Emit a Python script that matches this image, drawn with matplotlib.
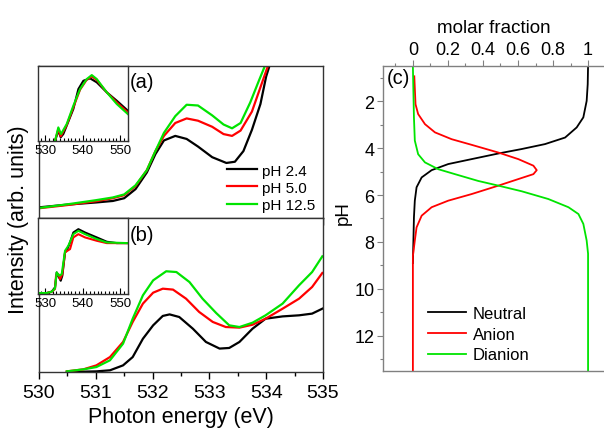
import matplotlib
matplotlib.use("Agg")
import matplotlib.pyplot as plt
from matplotlib.ticker import MultipleLocator, FixedLocator

plt.rcParams['font.family'] = ['Liberation Sans', 'DejaVu Sans']

# ---------------- data ----------------
# panel (a), main
a_black_x = [530.0, 530.5, 531.0, 531.3, 531.5, 531.7, 531.9, 532.05, 532.2, 532.4, 532.6, 532.8,
             533.05, 533.3, 533.45, 533.6, 533.75, 533.9, 534.0, 534.1]
a_black_y = [0.07, 0.088, 0.102, 0.112, 0.13, 0.19, 0.30, 0.42, 0.51, 0.54, 0.52, 0.47,
             0.40, 0.362, 0.37, 0.44, 0.58, 0.75, 0.93, 1.05]
a_red_x = [530.0, 530.5, 531.0, 531.3, 531.5, 531.7, 531.9, 532.05, 532.2, 532.4, 532.6, 532.8,
           533.05, 533.25, 533.4, 533.55, 533.75, 533.9, 534.05]
a_red_y = [0.064, 0.085, 0.11, 0.13, 0.15, 0.21, 0.315, 0.44, 0.54, 0.625, 0.655, 0.64,
           0.60, 0.552, 0.54, 0.575, 0.70, 0.86, 1.02]
a_green_x = [530.0, 530.5, 531.0, 531.3, 531.5, 531.7, 531.9, 532.05, 532.2, 532.4, 532.6, 532.8,
             533.05, 533.25, 533.4, 533.55, 533.72, 533.88, 534.0]
a_green_y = [0.066, 0.09, 0.117, 0.135, 0.155, 0.215, 0.315, 0.44, 0.56, 0.67, 0.745, 0.74,
             0.675, 0.615, 0.59, 0.625, 0.76, 0.91, 1.02]

# panel (b), main
b_black_x = [530.49, 531.01, 531.25, 531.48, 531.65, 531.83, 532.01, 532.18, 532.30, 532.47, 532.71,
             532.94, 533.18, 533.35, 533.53, 533.76, 533.99, 534.29, 534.58, 534.81, 534.99]
b_black_y = [0.0, 0.004, 0.011, 0.043, 0.097, 0.216, 0.303, 0.364, 0.374, 0.357, 0.281,
             0.195, 0.152, 0.156, 0.195, 0.281, 0.346, 0.361, 0.368, 0.379, 0.411]
b_red_x = [530.49, 530.78, 531.01, 531.25, 531.48, 531.65, 531.83, 532.01, 532.18, 532.36, 532.59,
           532.82, 533.06, 533.29, 533.53, 533.76, 533.99, 534.29, 534.58, 534.81, 534.99]
b_red_y = [0.004, 0.017, 0.043, 0.097, 0.195, 0.325, 0.444, 0.515, 0.541, 0.535, 0.476,
           0.39, 0.325, 0.292, 0.288, 0.307, 0.346, 0.411, 0.476, 0.552, 0.643]
b_green_x = [530.49, 530.78, 531.01, 531.25, 531.48, 531.65, 531.83, 532.01, 532.24, 532.42, 532.65,
             532.88, 533.12, 533.35, 533.53, 533.76, 533.99, 534.29, 534.58, 534.81, 534.99]
b_green_y = [0.004, 0.017, 0.032, 0.076, 0.184, 0.346, 0.498, 0.595, 0.654, 0.649, 0.584,
             0.476, 0.383, 0.303, 0.292, 0.320, 0.368, 0.444, 0.563, 0.649, 0.751]

# inset (a)
ia_black_x = [532.3, 532.65, 533.53, 534.17, 534.87, 535.77, 537.53, 538.87, 540.2, 541.99, 543.77, 546.44, 549.1, 552.04]
ia_black_y = [-0.1, 0.0, 0.137, 0.049, 0.093, 0.204, 0.425, 0.69, 0.80, 0.832, 0.779, 0.646, 0.535, 0.403]
ia_red_x = [532.3, 532.65, 533.53, 534.17, 535.77, 537.53, 539.32, 541.1, 542.44, 543.77, 546.44, 549.1, 552.04]
ia_red_y = [-0.1, 0.0, 0.159, 0.062, 0.212, 0.447, 0.681, 0.814, 0.858, 0.81, 0.646, 0.513, 0.38]
ia_green_x = [532.3, 532.65, 533.53, 534.25, 535.77, 537.53, 539.32, 541.1, 542.44, 543.77, 546.44, 549.1, 552.04]
ia_green_y = [-0.1, 0.0, 0.181, 0.093, 0.226, 0.469, 0.69, 0.823, 0.876, 0.823, 0.646, 0.491, 0.358]

# inset (b)
ib_black_x = [528.2, 530.44, 531.77, 532.65, 533.1, 533.72, 534.17, 534.6, 535.32, 535.93, 536.65,
              537.53, 538.87, 540.65, 543.77, 546.44, 549.1, 552.04]
ib_black_y = [0.013, 0.013, 0.031, 0.088, 0.285, 0.219, 0.175, 0.241, 0.548, 0.592, 0.68,
              0.811, 0.855, 0.811, 0.746, 0.689, 0.671, 0.671]
ib_red_x = [528.2, 530.44, 531.77, 532.65, 532.92, 533.53, 533.99, 534.6, 535.32, 535.93, 536.65,
            537.53, 538.87, 540.65, 543.77, 546.44, 552.04]
ib_red_y = [0.013, 0.013, 0.031, 0.066, 0.241, 0.263, 0.197, 0.263, 0.548, 0.57, 0.592,
            0.746, 0.789, 0.746, 0.702, 0.671, 0.671]
ib_green_x = [528.2, 530.44, 531.77, 532.65, 533.1, 533.8, 534.44, 535.32, 536.2,
              537.53, 538.87, 540.65, 543.77, 546.44, 552.04]
ib_green_y = [0.013, 0.013, 0.031, 0.075, 0.285, 0.241, 0.263, 0.57, 0.636,
              0.789, 0.833, 0.789, 0.724, 0.68, 0.671]

# panel (c): molar fraction vs pH
neutral_ph = [0.5, 1.28, 1.99, 2.69, 3.12, 3.55, 3.83, 4.04, 4.23, 4.47, 4.68, 4.94, 5.25, 5.67, 6.24, 6.95, 8.9]
neutral_fr = [1.0, 0.998, 0.992, 0.973, 0.935, 0.869, 0.754, 0.621, 0.488, 0.335, 0.202, 0.107, 0.05, 0.021, 0.011, 0.006, 0.0]
anion_ph = [0.94, 2.13, 2.55, 2.98, 3.33, 3.62, 3.86, 4.19, 4.47, 4.75, 4.94, 5.11, 5.32, 5.60, 5.96,
            6.24, 6.52, 6.88, 7.38, 7.94, 8.6, 13.5]
anion_fr = [0.008, 0.015, 0.03, 0.069, 0.126, 0.221, 0.335, 0.488, 0.602, 0.688, 0.707, 0.688, 0.602, 0.488, 0.335,
            0.202, 0.107, 0.05, 0.021, 0.011, 0.0, 0.0]
dianion_ph = [0.5, 1.28, 2.69, 3.68, 4.26, 4.61, 4.9, 5.11, 5.4, 5.6, 5.84, 6.17, 6.52, 6.81, 7.23, 7.94, 8.5, 13.5]
dianion_fr = [0.0, 0.002, 0.006, 0.011, 0.03, 0.069, 0.145, 0.24, 0.373, 0.488, 0.621, 0.773, 0.888, 0.945, 0.973, 0.992, 1.0, 1.0]

series_labels = ['pH 2.4', 'pH 5.0', 'pH 12.5']
species_labels = ['Neutral', 'Anion', 'Dianion']
GREEN = '#00e400'
colors = ['black', '#ff0000', GREEN]

fig = plt.figure(figsize=(6.04, 4.31), dpi=100)

ax_a = fig.add_axes([0.0646, 0.4919, 0.470, 0.3527])
ax_b = fig.add_axes([0.0646, 0.1346, 0.470, 0.3573])
ax_c = fig.add_axes([0.634, 0.1369, 0.366, 0.7077])

for ax in (ax_a, ax_b):
    ax.set_xlim(530, 535)
    ax.set_yticks([])
    ax.xaxis.set_major_locator(MultipleLocator(1))
    ax.xaxis.set_minor_locator(MultipleLocator(0.5))
    ax.tick_params(axis='x', which='major', direction='out', length=5, width=1, labelsize=14)
    ax.tick_params(axis='x', which='minor', direction='out', length=3, width=1)
    for s in ax.spines.values():
        s.set_linewidth(1.0)
        s.set_color('#333333')

ax_a.set_ylim(0, 1)
ax_a.tick_params(axis='x', labelbottom=False)
for xs, ys, c, lab in zip([a_black_x, a_red_x, a_green_x], [a_black_y, a_red_y, a_green_y], colors, series_labels):
    ax_a.plot(xs, ys, color=c, lw=1.6, label=lab)
ax_a.legend(loc='lower right', bbox_to_anchor=(1.01, -0.03), frameon=False, fontsize=11,
            handlelength=2.0, handletextpad=0.3, labelspacing=0.2, borderpad=0.2)
ax_a.text(0.32, 0.86, '(a)', transform=ax_a.transAxes, fontsize=14.5)

ax_b.set_ylim(0, 1)
for xs, ys, c in zip([b_black_x, b_red_x, b_green_x], [b_black_y, b_red_y, b_green_y], colors):
    ax_b.plot(xs, ys, color=c, lw=1.6)
ax_b.set_xlabel('Photon energy (eV)', fontsize=15.5, labelpad=4)
ax_b.text(0.32, 0.86, '(b)', transform=ax_b.transAxes, fontsize=14.5)

fig.text(0.03, 0.49, 'Intensity (arb. units)', rotation=90, fontsize=15.5, ha='center', va='center')

# insets
ins_a = fig.add_axes([0.0634, 0.6705, 0.148, 0.1747])
ins_b = fig.add_axes([0.0634, 0.3155, 0.148, 0.176])
for ins, data in ((ins_a, [(ia_black_x, ia_black_y), (ia_red_x, ia_red_y), (ia_green_x, ia_green_y)]),
                  (ins_b, [(ib_black_x, ib_black_y), (ib_red_x, ib_red_y), (ib_green_x, ib_green_y)])):
    for (xs, ys), c in zip(data, colors):
        ins.plot(xs, ys, color=c, lw=1.5)
    ins.set_xlim(528.2, 552)
    ins.set_ylim(0, 1)
    ins.set_yticks([])
    ins.xaxis.set_major_locator(FixedLocator([530, 540, 550]))
    ins.xaxis.set_minor_locator(MultipleLocator(1))
    ins.tick_params(axis='x', which='major', direction='in', length=4, width=0.8, labelsize=9.5, pad=2)
    ins.tick_params(axis='x', which='minor', direction='in', length=2, width=0.8)
    for s in ins.spines.values():
        s.set_linewidth(1.0)
        s.set_color('#333333')

# panel (c)
for fr, ph, c, lab in zip([neutral_fr, anion_fr, dianion_fr], [neutral_ph, anion_ph, dianion_ph], colors, species_labels):
    ax_c.plot(fr, ph, color=c, lw=1.3, label=lab)
ax_c.set_xlim(-0.171, 1.091)
ax_c.set_ylim(13.5, 0.5)
ax_c.xaxis.tick_top()
ax_c.xaxis.set_label_position('top')
ax_c.set_xticks([0, 0.2, 0.4, 0.6, 0.8, 1.0])
ax_c.set_xticklabels(['0', '0.2', '0.4', '0.6', '0.8', '1'])
ax_c.xaxis.set_minor_locator(MultipleLocator(0.1))
ax_c.yaxis.set_minor_locator(MultipleLocator(1))
ax_c.set_yticks([2, 4, 6, 8, 10, 12])
ax_c.tick_params(which='major', direction='out', length=4, width=0.8, labelsize=13, color='#808080', pad=2)
ax_c.tick_params(which='minor', direction='out', length=2.5, width=0.8, color='#808080')
ax_c.set_xlabel('molar fraction', fontsize=13.5, labelpad=6)
ax_c.set_ylabel('pH', fontsize=13.5)
ax_c.yaxis.set_label_coords(-0.14, 0.52)
ax_c.spines['right'].set_visible(False)
for k in ('left', 'top', 'bottom'):
    ax_c.spines[k].set_color('#808080')
    ax_c.spines[k].set_linewidth(1.0)
ax_c.text(0.015, 0.945, '(c)', transform=ax_c.transAxes, fontsize=14.5)
ax_c.legend(loc='lower left', bbox_to_anchor=(0.15, -0.01), frameon=False, fontsize=12,
            handlelength=2.3, handletextpad=0.4, labelspacing=0.35, borderpad=0.2)

fig.savefig('out.png', dpi=100)
